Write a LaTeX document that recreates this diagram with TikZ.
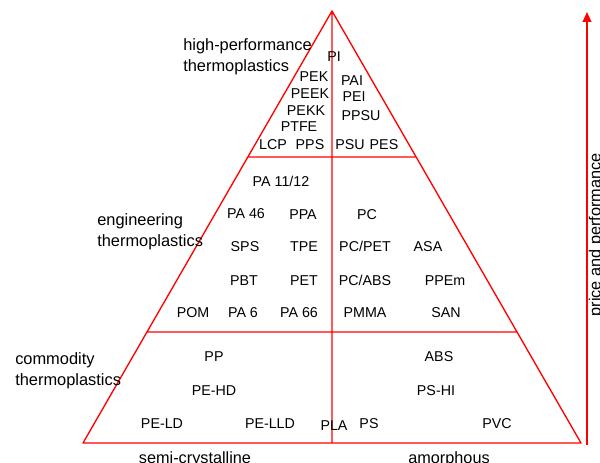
\documentclass[tikz,border=0pt]{standalone}
\usepackage{fontspec}
\setmainfont{Liberation Sans}
\usetikzlibrary{arrows.meta,calc}

\begin{document}
\begin{tikzpicture}[x=0.75pt, y=-0.75pt, line join=round, >={Triangle[length=7.5pt,width=6.5pt]}]
	\tikzset{poly/.style={inner sep=0pt, text height=0.72em, text depth=0pt, font=\fontsize{10.7}{12.8}\selectfont},
		klasse/.style={anchor=west, align=left, inner sep=0pt, font=\fontsize{12.3}{15.5}\selectfont},
		achse/.style={anchor=base, inner sep=0pt, font=\fontsize{12.2}{14.6}\selectfont}}
	\useasboundingbox (0,0) rectangle (600,463);
	% pyramid with its three tiers
	\draw[red, line width=1pt]
	(83,443) coordinate(L)--(581,443) coordinate(R)--(332,11) coordinate(T)--cycle
	(T)--($(L)!.5!(R)$) coordinate(M)
	($(L)!.662!(T)$) coordinate(hl)--($(R)!.662!(T)$) coordinate(hr)
	($(L)!.257!(T)$) coordinate(el)--($(R)!.257!(T)$) coordinate(er);
	% price axis
	\coordinate (lo) at (587,445);
	\coordinate (hi) at (587,12);
	\draw[->, red, line width=1.5pt] (lo)--(hi);
	\node[achse, rotate=90] (preis) at (600.5,235) {price and performance};
	% tier names
	\node[klasse] (hp) at (183,57) {high-performance\\thermoplastics};
	\node[klasse] (eng) at (97,232) {engineering\\thermoplastics};
	\node[klasse] (com) at (15,371) {commodity\\thermoplastics};
	\node[achse] (semi) at (195,463.5) {semi-crystalline};
	\node[achse] (amorph) at (449,463.5) {amorphous};
	% top tier
	\foreach \x/\y/\t [count=\i] in {334/57/PI, 314/77/PEK, 310/94/PEEK, 306/111/PEKK, 299/127/PTFE,
		273/145/LCP, 310/145/PPS, 350/145/PSU, 384/145/PES, 352/81/PAI, 354/97/PEI, 361/116/PPSU}
	\node[poly] (h\i) at (\x,\y) {\t};
	% middle tier
	\foreach \x/\y/\t [count=\i] in {281/182/{PA 11/12}, 246/214/PA 46, 303/215/PPA, 367/215/PC,
		245/247/SPS, 304/247/TPE, 365/247/{PC/PET}, 428/247/ASA,
		244/281/PBT, 304/281/PET, 365/281/{PC/ABS}, 445/281/PPEm,
		193/313/POM, 243/313/PA 6, 299/313/PA 66, 365/313/PMMA, 446/313/SAN}
	\node[poly] (e\i) at (\x,\y) {\t};
	% bottom tier
	\foreach \x/\y/\t [count=\i] in {214/357/PP, 439/357/ABS, 214/391/PE-HD, 436/391/PS-HI,
		162/424/PE-LD, 270/424/PE-LLD, 334/426/PLA, 369/424/PS, 497/424/PVC}
	\node[poly] (c\i) at (\x,\y) {\t};
\end{tikzpicture}
\end{document}
